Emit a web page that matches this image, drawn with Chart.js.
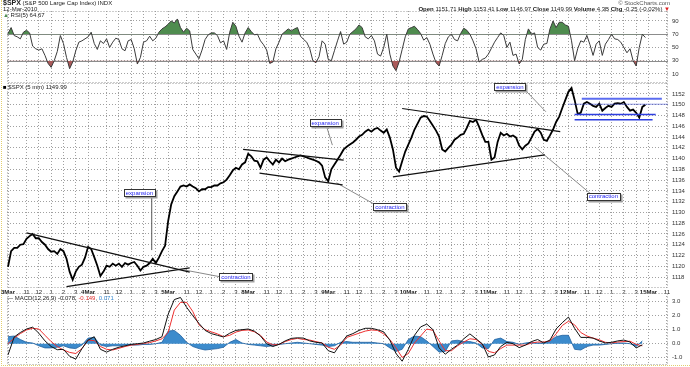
<!DOCTYPE html>
<html>
<head>
<meta charset="utf-8">
<title>$SPX 5 min</title>
<script src="https://cdn.jsdelivr.net/npm/chart.js@4.4.1/dist/chart.umd.min.js"></script>
<style>
  body { margin: 0; background: #fff; }
  #wrap { position: relative; width: 690px; height: 367px; overflow: hidden;
          font-family: "Liberation Sans", Arial, sans-serif; color: #222; }
  #wrap canvas { position: absolute; left: 0; }
  .lbl { position: absolute; font-size: 6px; line-height: 6px; white-space: nowrap; }
  .frame { position: absolute; left: 1px; top: 0; width: 688px; height: 365px;
           border-left: 1px dotted #e3cf6e; border-bottom: 1px dotted #e3cf6e; }
</style>
</head>
<body>
<div id="wrap">
  <div class="frame"></div>
  <canvas id="rsi" width="690" height="83" style="top:0"></canvas>
  <canvas id="price" width="690" height="215" style="top:83px"></canvas>
  <canvas id="macd" width="690" height="74" style="top:293px"></canvas>

  <div class="lbl" style="left:3px;top:0"><b style="font-size:7px">$SPX</b> (S&amp;P 500 Large Cap Index) INDX</div>
  <div class="lbl" style="left:3px;top:6px">12-Mar-2010</div>
  <div class="lbl" style="left:3px;top:12px"><span style="color:#4e8c4e">&#9650;</span> RSI(5) 64.67</div>
  <div class="lbl" style="right:20px;top:0;color:#555">&copy; StockCharts.com</div>
  <div class="lbl" style="right:20px;top:6px"><b>Open</b> 1151.71 <b>High</b> 1153.41 <b>Low</b> 1146.97 <b>Close</b> 1149.99 <b>Volume</b> 4.3B <b>Chg</b> -0.25 (-0.02%) <span style="color:#d22">&#9660;</span></div>
  <div class="lbl" style="left:3px;top:84px"><span style="color:#000">&#9632;</span> $SPX (5 min) 1149.99</div>
  <div class="lbl" style="left:7px;top:295px">&mdash; MACD(12,26,9) -0.078, <span style="color:#e03030">-0.149</span>, <span style="color:#3a8ad0">0.071</span></div>
</div>

<script>
// axis labels
const dayLabels = ['3Mar', '4Mar', '5Mar', '8Mar', '9Mar', '10Mar', '11Mar', '12Mar', '15Mar'];
const hourLabels = ['11', '12', '1', '2', '3'];
const hourBars = [18, 30, 42, 54, 66];     // 5-min bars after the 9:30 open
const barsPerDay = 78;
const priceStep = 3;                        // price & RSI read every 15 min
const macdStep = 6;                         // MACD read every 30 min

const priceTicks = [1118, 1120, 1122, 1124, 1126, 1128, 1130, 1132, 1134, 1136, 1138, 1140, 1142, 1144, 1146, 1148, 1150, 1152];
const rsiTicks = [10, 30, 50, 70, 90];
const macdTicks = [-1.0, -0.5, 0.0, 0.5, 1.0, 1.5, 2.0, 2.5, 3.0];

// $SPX close, one value per 15 min, 3Mar .. 12Mar
const spxClose = [
  1119.9, 1122.8, 1123.4, 1123.4, 1124.0, 1124.1, 1125.1, 1125.6, 1126.0, 1125.2, 1125.2, 1124.5, 1124.0, 1123.2, 1122.7, 1122.8, 1122.3, 1123.2, 1122.8, 1121.4, 1119.0, 1117.5, 1119.0, 1119.9, 1120.3, 1121.6,
  1123.6, 1123.2, 1121.7, 1120.1, 1118.2, 1119.0, 1120.1, 1119.9, 1120.5, 1120.1, 1120.5, 1119.9, 1120.6, 1120.3, 1120.6, 1120.8, 1120.1, 1119.2, 1119.9, 1120.1, 1120.6, 1121.4, 1120.6, 1121.6, 1122.8, 1123.8,
  1128.4, 1131.5, 1133.0, 1133.9, 1134.8, 1135.0, 1134.8, 1135.2, 1134.8, 1134.5, 1133.9, 1134.3, 1134.3, 1134.7, 1134.7, 1135.0, 1135.0, 1135.4, 1135.6, 1136.1, 1136.9, 1137.8, 1138.3, 1138.0, 1138.9, 1139.3,
  1140.9, 1140.4, 1139.6, 1139.5, 1138.3, 1139.8, 1140.2, 1139.5, 1138.9, 1139.8, 1139.3, 1140.0, 1139.5, 1139.8, 1140.0, 1140.2, 1140.4, 1140.6, 1140.4, 1140.2, 1140.0, 1139.8, 1139.6, 1139.3, 1138.7, 1136.5,
  1135.8, 1138.0, 1138.9, 1139.8, 1140.7, 1141.7, 1142.2, 1142.6, 1143.0, 1143.5, 1144.1, 1144.4, 1145.0, 1145.4, 1145.0, 1145.5, 1145.7, 1145.2, 1144.8, 1145.4, 1143.9, 1141.7, 1138.3, 1137.6, 1139.5, 1141.3,
  1142.6, 1143.9, 1145.4, 1146.5, 1147.6, 1147.9, 1147.8, 1147.0, 1146.1, 1145.2, 1144.1, 1141.7, 1141.3, 1142.0, 1142.6, 1143.5, 1143.9, 1144.4, 1144.6, 1145.7, 1147.0, 1146.8, 1147.2, 1145.9, 1144.4, 1143.1,
  1143.1, 1139.8, 1140.2, 1143.1, 1144.8, 1144.3, 1144.6, 1144.1, 1144.3, 1143.9, 1142.4, 1141.7, 1142.4, 1142.8, 1143.9, 1145.0, 1145.5, 1144.8, 1143.5, 1143.3, 1144.3, 1145.4, 1146.8, 1147.8, 1149.4, 1150.9,
  1152.4, 1153.1, 1150.9, 1148.3, 1148.5, 1150.2, 1150.5, 1150.2, 1149.8, 1149.6, 1150.2, 1148.9, 1149.4, 1149.8, 1149.6, 1150.2, 1150.3, 1150.2, 1150.5, 1149.6, 1148.9, 1149.1, 1148.5, 1147.6, 1149.6, 1150.0
];

// RSI(5), same sampling
const rsi5 = [
  71, 80, 68, 66, 63, 73, 76, 72, 52, 48, 46, 48, 38, 26, 20, 30, 44, 68, 56, 35, 18, 28, 45, 58, 60, 63,
  66, 73, 56, 47, 60, 56, 63, 50, 58, 64, 62, 48, 45, 60, 62, 48, 25, 35, 58, 60, 67, 60, 64, 73, 78, 81,
  85, 90, 87, 93, 80, 73, 79, 75, 47, 40, 33, 46, 62, 69, 72, 72, 68, 57, 60, 47, 73, 88, 82, 67, 58, 72,
  80, 74, 69, 70, 60, 54, 46, 26, 28, 48, 58, 70, 74, 78, 75, 78, 80, 67, 62, 58, 48, 30, 27, 36, 60, 55,
  32, 30, 45, 60, 74, 55, 58, 70, 74, 78, 84, 80, 66, 63, 68, 60, 40, 37, 50, 70, 40, 22, 15, 28, 47, 66,
  78, 80, 82, 77, 71, 61, 65, 55, 40, 27, 22, 38, 56, 66, 70, 62, 60, 71, 79, 76, 70, 60, 48, 28, 32, 34,
  40, 49, 58, 65, 72, 68, 50, 58, 38, 40, 25, 32, 62, 78, 70, 72, 50, 46, 55, 56, 78, 90, 80, 88, 88, 84,
  82, 60, 30, 48, 60, 58, 68, 54, 38, 55, 60, 38, 55, 62, 70, 63, 62, 58, 50, 42, 48, 30, 22, 50, 70, 65
];

// MACD(12,26,9), one value per 30 min
const macdLine = [
  -0.8, 0.48, 0.8, 1.05, 1.18, 0.75, 0.2, -0.2, -0.43, -0.4, -0.9, -1.1, -0.35,
  0.26, 0.5, -0.4, -0.6, -0.4, -0.25, -0.15, -0.05, 0.0, 0.05, 0.18, 0.3, 0.5,
  2.1, 3.15, 3.3, 2.6, 2.0, 1.45, 0.95, 0.72, 0.6, 0.48, 0.75, 0.95, 1.0,
  1.05, 0.9, 0.55, 0.0, -0.2, -0.05, 0.2, 0.38, 0.42, 0.4, 0.2, 0.1, 0.05,
  -0.5, -0.65, 0.0, 0.55, 0.72, 0.95, 1.1, 1.1, 1.0, 0.85, 0.25, -0.7, -1.25,
  -0.4, 0.6, 1.2, 1.4, 1.0, -0.3, -0.75, -0.4, -0.1, 0.35, 0.7, 0.35, 0.0,
  -0.95, -0.8, -0.2, 0.1, 0.0, -0.28, -0.1, 0.15, 0.3, 0.05, 0.26, 1.05, 1.5,
  1.9, 1.1, 0.45, 0.45, 0.4, 0.2, 0.05, 0.1, 0.2, 0.26, 0.12, -0.3, -0.08
];
const macdSignal = [
  0.0, 0.4, 0.72, 0.98, 1.1, 1.05, 0.6, 0.15, -0.2, -0.45, -0.62, -0.7, -0.35,
  0.26, 0.22, -0.2, -0.4, -0.45, -0.33, -0.2, -0.1, -0.05, 0.02, 0.08, 0.2, 0.35,
  0.8, 2.4, 2.95, 2.95, 2.3, 1.35, 1.0, 0.85, 0.7, 0.5, 0.6, 0.83, 0.95,
  0.98, 0.85, 0.6, 0.12, -0.08, -0.05, 0.15, 0.3, 0.38, 0.3, 0.26, 0.15, 0.05,
  -0.25, -0.4, -0.1, 0.45, 0.6, 0.75, 0.9, 0.98, 0.95, 0.7, 0.3, -0.3, -0.98,
  -0.7, 0.05, 0.55, 1.05, 0.95, 0.2, -0.5, -0.5, -0.15, 0.12, 0.35, 0.3, -0.05,
  -0.55, -0.65, -0.35, -0.1, -0.1, -0.1, -0.1, 0.05, 0.12, 0.12, 0.2, 0.7, 1.3,
  1.6, 1.35, 0.8, 0.55, 0.4, 0.28, 0.1, 0.06, 0.12, 0.15, 0.18, -0.05, -0.15
];
const macdHist = [
  0.5, 0.55, 0.3, 0.1, 0.05, -0.15, -0.3, -0.3, -0.25, -0.15, -0.3, -0.35, -0.1,
  0.4, 0.45, -0.1, -0.2, -0.15, -0.15, -0.1, -0.1, -0.1, -0.05, -0.05, 0.0, 0.1,
  0.9, 0.95, 0.6, 0.1, -0.2, -0.35, -0.45, -0.4, -0.35, -0.25, 0.1, 0.3, 0.05,
  -0.05, -0.1, -0.15, -0.2, -0.15, -0.05, 0.0, 0.05, 0.1, 0.05, 0.0, -0.05, -0.1,
  -0.2, -0.15, 0.1, 0.15, 0.1, 0.1, 0.1, 0.1, 0.05, 0.0, -0.3, -0.55, -0.4,
  0.3, 0.55, 0.5, 0.2, -0.2, -0.6, -0.55, 0.2, 0.25, 0.15, 0.15, 0.05, -0.3,
  -0.35, 0.3, 0.4, 0.15, 0.1, -0.05, 0.05, 0.1, 0.05, 0.05, 0.2, 0.5, 0.6,
  0.6, -0.4, -0.45, -0.2, -0.1, -0.1, -0.05, 0.0, 0.05, 0.05, 0.0, -0.2, 0.2
];

// hand drawn annotations, in (bar, price)
const trendLines = [
  [18, 1126.2, 177, 1118.9],
  [57, 1116.2, 177, 1119.7],
  [229, 1141.7, 327, 1139.7],
  [245, 1137.3, 326, 1135.1],
  [384, 1149.3, 538, 1145.0],
  [375, 1136.6, 523, 1140.7]
];
const leaderLines = [
  [172, 1119.3, 208, 1118.0, '#8a8a8a'],
  [140, 1133.2, 140, 1123.0, '#555'],
  [320, 1135.5, 358, 1131.4, '#8a8a8a'],
  [310, 1146.2, 316, 1142.5, '#8a8a8a'],
  [513, 1142.2, 568, 1133.4, '#8a8a8a'],
  [502, 1153.1, 524, 1148.7, '#8a8a8a']
];
const notes = [
  { text: 'expansion', bar: 128, price: 1133.7 },
  { text: 'contraction', bar: 222, price: 1118.1 },
  { text: 'expansion', bar: 309, price: 1146.7 },
  { text: 'contraction', bar: 372, price: 1131.1 },
  { text: 'expansion', bar: 489, price: 1153.3 },
  { text: 'contraction', bar: 580, price: 1133.0 }
];
const rangeLines = [
  { from: 559, to: 637, price: 1151.1, width: 2, color: '#5b6cf0' },
  { from: 546, to: 643, price: 1150.1, width: 1, color: '#2233cc', dash: [1, 1] },
  { from: 552, to: 631, price: 1148.2, width: 1.5, color: '#2f3fe0' },
  { from: 552, to: 628, price: 1147.2, width: 1.5, color: '#2f3fe0' }
];

const fontFam = '"Liberation Sans", Arial, sans-serif';
const xMin = -1, xMax = 643;
const gridColor = '#a0a0a0';

function barTicks(scale) {
  const t = [];
  dayLabels.forEach((d, i) => {
    t.push({ value: i * barsPerDay });
    hourBars.forEach(h => {
      const v = i * barsPerDay + h;
      if (v <= xMax) t.push({ value: v });
    });
  });
  scale.ticks = t;
}

function barLabel(v) {
  const d = Math.floor(v / barsPerDay), r = v % barsPerDay;
  if (r === 0) return dayLabels[d];
  return hourLabels[hourBars.indexOf(r)];
}

// keep every chart area exactly where the panels sit
function noPad(s) {
  s.paddingTop = 0; s.paddingBottom = 0; s.paddingLeft = 0; s.paddingRight = 0;
}

function xScale(showLabels, h) {
  return {
    type: 'linear', min: xMin, max: xMax,
    afterBuildTicks: barTicks,
    afterFit: s => { s.height = h; noPad(s); },
    grid: { color: gridColor, drawTicks: false },
    border: { display: false, dash: [1, 2] },
    ticks: {
      display: showLabels, autoSkip: false, maxRotation: 0, padding: 1, color: '#222',
      font: c => ({ family: fontFam, size: 6, weight: (c.tick && c.tick.value % barsPerDay === 0) ? 'bold' : 'normal' }),
      callback: barLabel
    }
  };
}

function yScale(min, max, ticks, fmt) {
  return {
    position: 'right', min: min, max: max,
    afterBuildTicks: s => { s.ticks = ticks.map(v => ({ value: v })); },
    afterFit: s => { s.width = 22; noPad(s); },
    grid: { color: gridColor, drawTicks: false },
    border: { display: false, dash: [1, 2] },
    ticks: { padding: 4, color: '#333', font: { family: fontFam, size: 6 }, callback: fmt }
  };
}

const frame = {
  id: 'frame',
  beforeDatasetsDraw(chart) {
    const { ctx, chartArea: a } = chart;
    ctx.save();
    ctx.strokeStyle = '#9a9a9a';
    ctx.lineWidth = 1;
    ctx.setLineDash([1, 2]);
    ctx.strokeRect(a.left + 0.5, a.top + 0.5, a.right - a.left - 1, a.bottom - a.top - 1);
    ctx.restore();
  }
};

const rsiLevels = {
  id: 'rsiLevels',
  beforeDatasetsDraw(chart) {
    const { ctx, chartArea: a } = chart, y = chart.scales.y;
    ctx.save();
    ctx.strokeStyle = '#8c8c8c';
    ctx.lineWidth = 1;
    [70, 30].forEach(v => {
      const py = Math.round(y.getPixelForValue(v)) + 0.5;
      ctx.beginPath(); ctx.moveTo(a.left, py); ctx.lineTo(a.right, py); ctx.stroke();
    });
    ctx.restore();
  }
};

const annotate = {
  id: 'annotate',
  afterDatasetsDraw(chart) {
    const { ctx } = chart, xs = chart.scales.x, ys = chart.scales.y;
    const X = b => xs.getPixelForValue(b), Y = p => ys.getPixelForValue(p);
    const seg = (s, color, w, dash) => {
      ctx.beginPath();
      ctx.strokeStyle = color; ctx.lineWidth = w; ctx.setLineDash(dash || []);
      ctx.moveTo(X(s[0]), Y(s[1])); ctx.lineTo(X(s[2]), Y(s[3]));
      ctx.stroke();
    };
    ctx.save();
    leaderLines.forEach(s => seg(s, s[4], 1));
    trendLines.forEach(s => seg(s, '#111', 1.2));
    rangeLines.forEach(r => seg([r.from, r.price, r.to, r.price], r.color, r.width, r.dash));
    ctx.setLineDash([]);
    ctx.font = '6px ' + fontFam;
    ctx.textAlign = 'center';
    ctx.textBaseline = 'middle';
    notes.forEach(n => {
      const cx = X(n.bar), cy = Y(n.price);
      const w = Math.round(ctx.measureText(n.text).width + 4), h = 7;
      const l = Math.round(cx - w / 2) + 0.5, t = Math.round(cy - h / 2) + 0.5;
      ctx.fillStyle = '#a0a0a0'; ctx.fillRect(l + 1, t + 1, w + 1, h + 1);
      ctx.fillStyle = '#fff'; ctx.fillRect(l, t, w, h);
      ctx.strokeStyle = '#333'; ctx.lineWidth = 1; ctx.strokeRect(l, t, w, h);
      ctx.fillStyle = '#1c1cf0'; ctx.fillText(n.text, cx, cy + 0.5);
    });
    ctx.restore();
  }
};

const base = {
  responsive: false, animation: false, devicePixelRatio: 1, events: [],
  plugins: { legend: { display: false }, tooltip: { enabled: false } },
  elements: { point: { radius: 0 }, line: { tension: 0 } }
};
const clear = 'rgba(0,0,0,0)';

const rsiPts = rsi5.map((v, i) => ({ x: i * priceStep, y: v }));
new Chart(document.getElementById('rsi'), {
  type: 'line',
  data: {
    datasets: [
      { data: rsiPts, borderColor: '#3a3a3a', borderWidth: 1, fill: false },
      { data: rsiPts, borderColor: clear, borderWidth: 0, fill: { target: { value: 70 }, above: '#4f8c4f', below: clear } },
      { data: rsiPts, borderColor: clear, borderWidth: 0, fill: { target: { value: 30 }, above: clear, below: '#aa5a5a' } }
    ]
  },
  options: Object.assign({}, base, {
    layout: { padding: { top: 11, left: 7, right: 0, bottom: 0 } },
    scales: { x: xScale(false, 0), y: yScale(-3.6, 105, rsiTicks, v => String(v)) }
  }),
  plugins: [frame, rsiLevels]
});

new Chart(document.getElementById('price'), {
  type: 'line',
  data: {
    datasets: [
      { data: spxClose.map((v, i) => ({ x: i * priceStep, y: v })), borderColor: '#000', borderWidth: 1.8, fill: false }
    ]
  },
  options: Object.assign({}, base, {
    layout: { padding: { top: 0, left: 7, right: 0, bottom: 0 } },
    scales: { x: xScale(true, 10), y: yScale(1115.96, 1154.04, priceTicks, v => String(v)) }
  }),
  plugins: [frame, annotate]
});

new Chart(document.getElementById('macd'), {
  type: 'line',
  data: {
    datasets: [
      { data: macdLine.map((v, i) => ({ x: i * macdStep, y: v })), borderColor: '#111', borderWidth: 1, fill: false },
      { data: macdSignal.map((v, i) => ({ x: i * macdStep, y: v })), borderColor: '#ee3030', borderWidth: 1, fill: false },
      { data: macdHist.map((v, i) => ({ x: i * macdStep, y: v })), borderColor: '#1f5f9e', borderWidth: 0.8,
        fill: { target: 'origin', above: '#3c8bcc', below: '#3c8bcc' } }
    ]
  },
  options: Object.assign({}, base, {
    layout: { padding: { top: 0, left: 7, right: 0, bottom: 2 } },
    scales: { x: xScale(false, 0), y: yScale(-1.52, 3.62, macdTicks, v => v.toFixed(1)) }
  }),
  plugins: [frame]
});
</script>
</body>
</html>
